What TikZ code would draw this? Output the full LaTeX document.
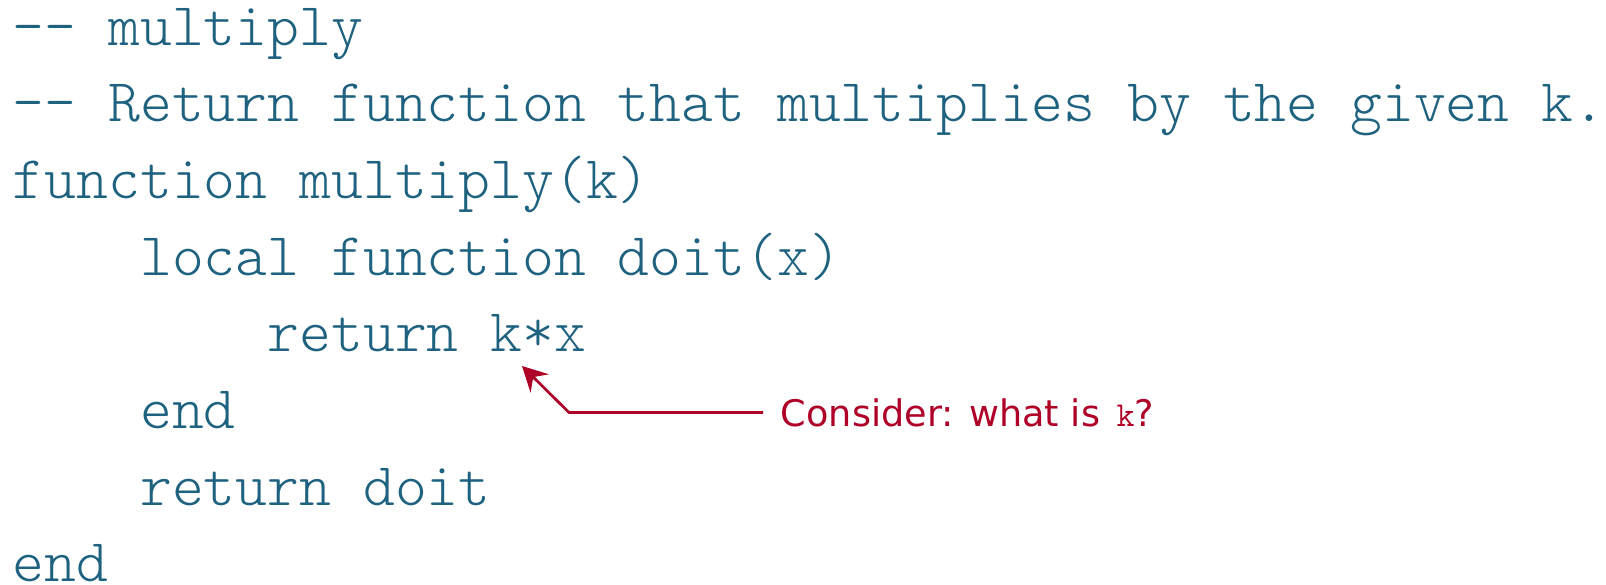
\documentclass[tikz,border=0pt]{standalone}
\usepackage{fontspec}
\newfontfamily\annfont{DejaVu Sans}
\newfontfamily\codefont{Latin Modern Mono Light}
\usetikzlibrary{arrows.meta}
\definecolor{codecol}{RGB}{30,98,128}
\definecolor{anncol}{RGB}{175,0,40}
\tikzset{
  code/.style={anchor=base west, inner sep=0pt, text=codecol,
    font=\fontsize{30.33}{36}\selectfont\codefont},
  ann/.style={anchor=base west, inner xsep=8.75pt, inner ysep=0pt, text=anncol,
    font=\fontsize{18.3}{22}\selectfont\annfont},
  annarrow/.style={draw=anncol, line width=1.35pt,
    -{Stealth[length=12.4pt,width=12.9pt,inset=4.5pt]}}
}
\begin{document}
\begin{tikzpicture}[x=0.5pt,y=-0.5pt]
\useasboundingbox (0,0) rectangle (1606,584);
\node[code] (l1) at (12.5,45) {-- multiply};
\node[code] (l2) at (12.5,121.7) {-- Return function that multiplies by the given k.};
\node[code] (l3) at (12.5,198.4) {function multiply(k)};
\node[code] (l4) at (139.9,275.1) {local function doit(x)};
\node[code] (l5) at (267.3,351.8) {return k*x};
\node[code] (l6) at (139.9,428.5) {end};
\node[code] (l7) at (139.9,505.2) {return doit};
\node[code] (l8) at (12.5,581.5) {end};
\node[ann] (note) at (763,426.5) {Consider: what is\ \hspace{2.5pt}{\fontsize{17.5}{20}\selectfont\ttfamily k}?};
\coordinate (bend) at (569,412.5);
\coordinate (tip) at (522,366);
\draw[annarrow] (note.west |- bend) -- (bend) -- (tip);
\end{tikzpicture}
\end{document}
